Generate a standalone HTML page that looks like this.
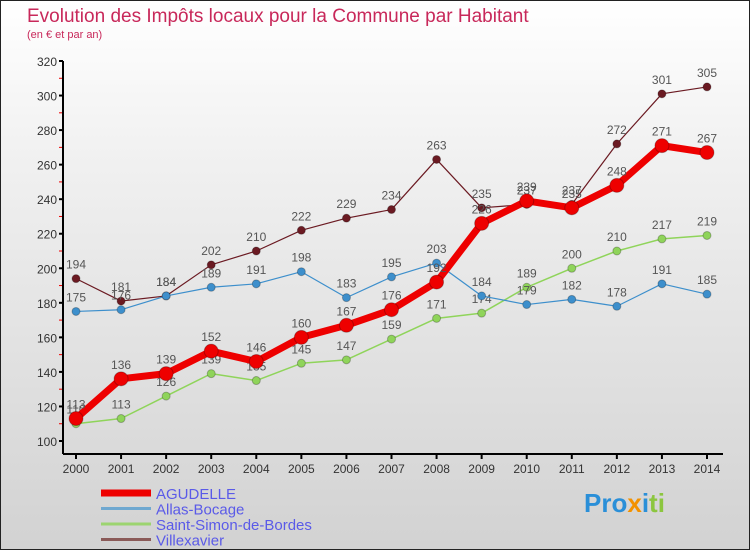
<!DOCTYPE html>
<html><head><meta charset="utf-8"><style>
body{margin:0}
#wrap{position:relative;width:750px;height:550px;overflow:hidden;font-family:"Liberation Sans",sans-serif;background:linear-gradient(#ffffff,#f0f0f0 30%,#d2d2d2 100%);box-sizing:border-box;border:1px solid #222}
.t{position:absolute;color:#c8285a}
</style></head><body>
<div id="wrap">
<div class="t" style="left:26px;top:5px;font-size:19px">Evolution des Impôts locaux pour la Commune par Habitant</div>
<div class="t" style="left:26px;top:28px;font-size:11px">(en € et par an)</div>
<svg id="svg" width="750" height="550" style="position:absolute;left:0;top:0"></svg>
<div style="position:absolute;left:583px;top:487px;font-size:26px;font-weight:bold;font-family:'Liberation Sans',sans-serif"><span style="color:#2a8fd8">Pro</span><span style="color:#f39200">x</span><span style="color:#2a8fd8">i</span><span style="color:#8cc63f">ti</span></div>
</div>
<script>
const years=[2000,2001,2002,2003,2004,2005,2006,2007,2008,2009,2010,2011,2012,2013,2014];
const yTicks=[100,120,140,160,180,200,220,240,260,280,300,320];
const agudelle=[113,136,139,152,146,160,167,176,192,226,239,235,248,271,267];
const allas=[175,176,184,189,191,198,183,195,203,184,179,182,178,191,185];
const saintSimon=[110,113,126,139,135,145,147,159,171,174,189,200,210,217,219];
const villexavier=[194,181,184,202,210,222,229,234,263,235,237,237,272,301,305];
const names=["AGUDELLE","Allas-Bocage","Saint-Simon-de-Bordes","Villexavier"];
const svg=document.getElementById('svg');
const NS='http://www.w3.org/2000/svg';
const x=i=>75+i*(706-75)/(years.length-1);
const y=v=>440-(v-100)*(380/220);
function el(t,a,p){const e=document.createElementNS(NS,t);for(const k in a)e.setAttribute(k,a[k]);(p||svg).appendChild(e);return e;}
let e;
e=el('line',{x1:62,y1:60,x2:62,y2:453,stroke:'#000','stroke-width':2});


e=el('line',{x1:62,y1:453,x2:722,y2:453,stroke:'#000','stroke-width':2});


yTicks.forEach((v,i)=>{
 el('line',{x1:58,y1:y(v),x2:62,y2:y(v),stroke:'#000','stroke-width':2});
 if(i<yTicks.length-1)el('line',{x1:58,y1:y(v+10),x2:61,y2:y(v+10),stroke:'#e00','stroke-width':1});
 e=el('text',{x:56,y:y(v)+5,'text-anchor':'end','font-size':12,fill:'#333'});e.textContent=v;
 
 
});
years.forEach((yr,i)=>{
 el('line',{x1:x(i),y1:453,x2:x(i),y2:458,stroke:'#000','stroke-width':2});
 e=el('text',{x:x(i),y:472,'text-anchor':'middle','font-size':12,fill:'#333'});e.textContent=yr;
 
 
});
const series=[[villexavier,'#6b1a22',1.2,4,'villexavier'],[saintSimon,'#8fd45a',1.5,4,'saint-simon'],[allas,'#3d8fcc',1.2,4,'allas'],[agudelle,'#ee0000',7,7,'agudelle']];
series.forEach(([d,c,w,r,n])=>{
 e=el('polyline',{points:d.map((v,i)=>x(i)+','+y(v)).join(' '),fill:'none',stroke:c,'stroke-width':w,'stroke-linejoin':'round'});
 
 
 d.forEach((v,i)=>{
  e=el('circle',{cx:x(i),cy:y(v),r:r,fill:c,stroke:'rgba(0,0,0,0.25)','stroke-width':1});
  
  
  e=el('text',{x:x(i),y:y(v)-10,'text-anchor':'middle','font-size':12,fill:'#555'});e.textContent=v;
  
  
 });
});
const lc=['#ee0000','#6fa8d0','#9cd470','#8a5a58'],lw=[7,3,3,3];
names.forEach((nm,i)=>{
 const yy=492+i*15.5;
 e=el('line',{x1:100,y1:yy,x2:150,y2:yy,stroke:lc[i],'stroke-width':lw[i]});
 
 
 e=el('text',{x:155,y:yy+6,'font-size':15,fill:'#5a5ae8'});e.textContent=nm;
 
 
});
</script>
</body></html>
